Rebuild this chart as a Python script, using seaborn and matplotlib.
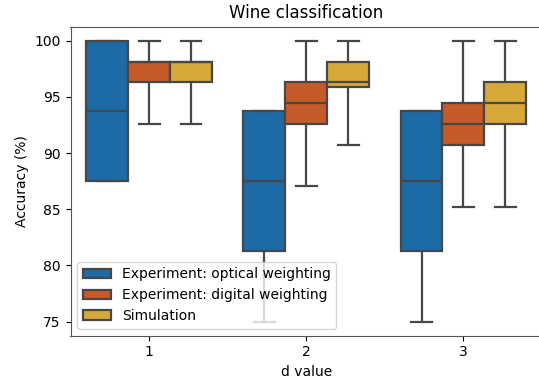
import matplotlib
matplotlib.use("Agg")
import matplotlib.pyplot as plt
import seaborn as sns
import pandas as pd

# Data (per-run accuracies, %)
d_values = ["1", "2", "3"]
methods = ["Experiment: optical weighting", "Experiment: digital weighting", "Simulation"]

optical_d1 = [87.5, 87.5, 93.75, 100.0, 100.0]
optical_d2 = [75.0, 81.25, 87.5, 93.75, 93.75]
optical_d3 = [75.0, 81.25, 87.5, 93.75, 93.75]

digital_d1 = [92.59, 96.30, 98.15, 98.15, 100.0]
digital_d2 = [87.04, 92.59, 94.44, 96.30, 100.0]
digital_d3 = [85.19, 90.74, 92.59, 94.44, 100.0]

simulation_d1 = [92.59, 96.30, 98.15, 98.15, 100.0]
simulation_d2 = [90.74, 95.9, 96.30, 98.15, 100.0]
simulation_d3 = [85.19, 92.59, 94.44, 96.30, 100.0]

colors = ["#1c6aa6", "#c75a29", "#d6a83a"]

series = {
    methods[0]: [optical_d1, optical_d2, optical_d3],
    methods[1]: [digital_d1, digital_d2, digital_d3],
    methods[2]: [simulation_d1, simulation_d2, simulation_d3],
}
rows = []
for m in methods:
    for d, vals in zip(d_values, series[m]):
        for v in vals:
            rows.append({"d value": d, "Accuracy (%)": v, "method": m})
df = pd.DataFrame(rows)

fig = plt.figure(figsize=(5.39, 3.82), dpi=100)
ax = fig.add_axes([70.5 / 539, (382 - 335.7) / 382, (542 - 70.5) / 539, 309 / 382])

sns.boxplot(data=df, x="d value", y="Accuracy (%)", hue="method",
            order=d_values, hue_order=methods, palette=colors,
            saturation=1, whis=(0, 100), width=0.8, gap=0,
            linecolor="#474747", linewidth=1.6, ax=ax)

ax.set_title("Wine classification", fontsize=12)
ax.set_xlabel("d value", fontsize=10)
ax.set_ylabel("Accuracy (%)", fontsize=10)
ax.tick_params(labelsize=10)
for s in ax.spines.values():
    s.set_color("#555555")
leg = ax.legend(loc="lower left", fontsize=10, framealpha=0.8)
ax.set_ylim(73.75, 101.25)

fig.savefig("out.png", dpi=100)
